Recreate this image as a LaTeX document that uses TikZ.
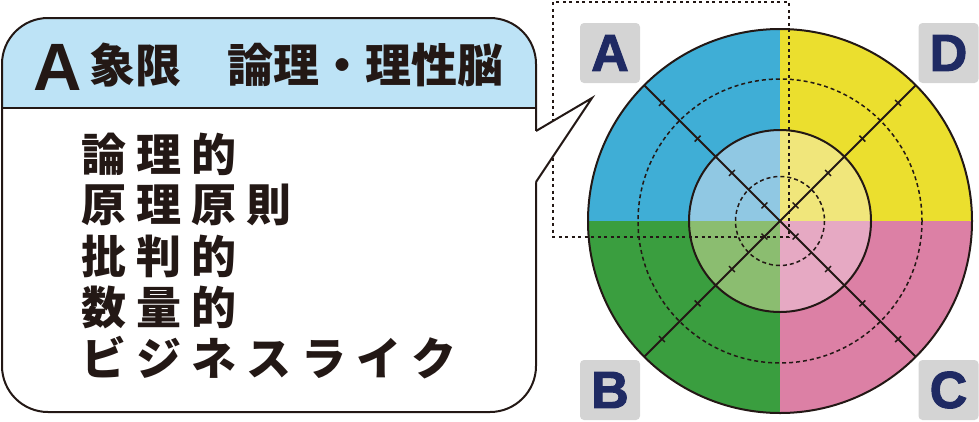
\documentclass[tikz,border=0pt]{standalone}
\usepackage{fontspec}
\setmainfont{Liberation Sans}
\newfontfamily\cjk{Noto Sans CJK JP}
\newfontfamily\heavy{Liberation Sans Bold}[FakeBold=2]
\definecolor{inkc}{HTML}{231815}
\definecolor{Aout}{HTML}{3FAED6}
\definecolor{Ain}{HTML}{90C8E3}
\definecolor{Dout}{HTML}{EBDF2E}
\definecolor{Din}{HTML}{F0E67B}
\definecolor{Bout}{HTML}{3A9E3F}
\definecolor{Bin}{HTML}{8BBD70}
\definecolor{Cout}{HTML}{DC80A5}
\definecolor{Cin}{HTML}{E6A9C3}
\definecolor{hdr}{HTML}{BDE3F6}
\definecolor{boxgray}{HTML}{D4D4D4}
\definecolor{navy}{HTML}{1F2A63}
\makeatletter
\newcommand\trk[2]{\@tfor\tk:=#2\do{\makebox[#1][l]{\tk}}}
\makeatother
\begin{document}
\begin{tikzpicture}[x=1pt,y=-1pt,
  thick line/.style={draw=inkc, line width=2pt},
  dashcircle/.style={draw=inkc, line width=1.5pt, dash pattern=on 4pt off 3pt},
  tickmark/.style={draw=inkc, line width=1.5pt},
  dotrect/.style={draw=inkc, line width=2.8pt, dash pattern=on 3pt off 3.5pt},
  lbox/.style={fill=boxgray, rounded corners=4pt, minimum size=60pt, inner sep=0pt,
    text=navy, font=\heavy\fontsize{52}{52}\selectfont},
  hdrtext/.style={inner sep=0pt, text=inkc, font=\cjk\bfseries\fontsize{46}{50}\selectfont},
  bodytext/.style={inner sep=0pt, text=inkc, font=\cjk\bfseries\fontsize{45}{50}\selectfont}]
\useasboundingbox (0,0) rectangle (979,421);
\coordinate (O) at (780,221);
% quadrants
\begin{scope}
  \clip (O) circle[radius=192];
  \fill[Aout] (O) rectangle (580,20);
  \fill[Dout] (O) rectangle (980,20);
  \fill[Bout] (O) rectangle (580,420);
  \fill[Cout] (O) rectangle (980,420);
\end{scope}
\begin{scope}
  \clip (O) circle[radius=91];
  \fill[Ain] (O) rectangle (680,120);
  \fill[Din] (O) rectangle (880,120);
  \fill[Bin] (O) rectangle (680,320);
  \fill[Cin] (O) rectangle (880,320);
\end{scope}
\draw[dashcircle] (O) circle[radius=142];
\draw[dashcircle] (O) circle[radius=44.5];
\draw[thick line] (O) circle[radius=91];
\draw[thick line] (O) ++(-135.8,-135.8) -- ++(271.6,271.6);
\draw[thick line] (O) ++(-135.8,135.8) -- ++(271.6,-271.6);
\foreach \d in {22,68,116.5,167,-22,-68,-116.5,-167}{
  \draw[tickmark] (O) ++(\d*0.7071+2.9,\d*0.7071-2.9) -- ++(-5.8,5.8);
  \draw[tickmark] (O) ++(\d*0.7071+2.9,-\d*0.7071+2.9) -- ++(-5.8,-5.8);
}
\draw[thick line] (O) circle[radius=192];
% letter boxes
\node[lbox] (qA) at (610,53) {A};
\node[lbox] (qD) at (948.5,53) {D};
\node[lbox] (qB) at (610,390) {B};
\node[lbox] (qC) at (948.5,390) {C};
% dotted frame
\draw[dotrect] (553,2) rectangle (789,237);
% callout
\begin{scope}
  \clip[rounded corners=46pt] (2,18) rectangle (536,412);
  \fill[white] (2,18) rectangle (536,412);
  \fill[hdr] (2,18) rectangle (536,108);
\end{scope}
\draw[thick line, rounded corners=46pt] (2,18) rectangle (536,412);
\draw[thick line] (2,108) -- (536,108);
\fill[white] (533,131) -- (536,131) -- (592,98) -- (536,182) -- (533,182) -- cycle;
\draw[thick line, line join=miter] (536,131) -- (592,98) -- (536,182);
% header text
\node[inner sep=0pt, anchor=base west, text=inkc, font=\fontsize{67}{67}\selectfont\bfseries] (hA) at (33,90) {A};
\node[hdrtext, anchor=west] (ht) at (89,65) {象限　論理・理性脳};
% body text
\node[bodytext, anchor=west] (b1) at (81,154) {\trk{55pt}{論理的}};
\node[bodytext, anchor=west] (b2) at (81,205) {\trk{55pt}{原理原則}};
\node[bodytext, anchor=west] (b3) at (81,256) {\trk{55pt}{批判的}};
\node[bodytext, anchor=west] (b4) at (81,307) {\trk{55pt}{数量的}};
\node[bodytext, anchor=west] (b5) at (81,358) {\trk{55pt}{ビジネスライク}};
\end{tikzpicture}
\end{document}
